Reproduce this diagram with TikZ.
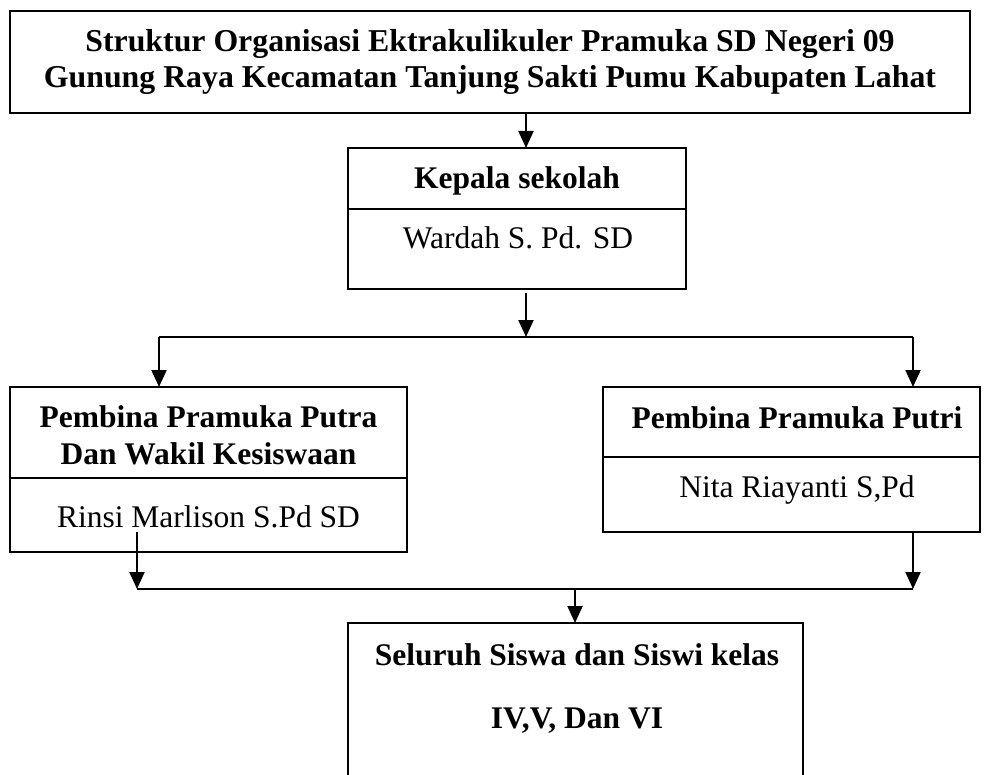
\documentclass[tikz,border=0pt]{standalone}
\usepackage{fontspec}
\setmainfont{Liberation Serif}
\usetikzlibrary{arrows.meta}
\begin{document}
\begin{tikzpicture}[x=1pt,y=-1pt,
  boxst/.style={draw,line width=2pt,inner sep=0pt,outer sep=0pt},
  ln/.style={line width=2pt},
  arr/.style={line width=2pt,-{Triangle[width=15pt,length=17pt]}},
  bt/.style={anchor=base,inner sep=0pt,font=\fontsize{31.5}{36}\selectfont\bfseries},
  tt/.style={anchor=base,inner sep=0pt,font=\fontsize{31.8}{36}\selectfont\bfseries},
  rt/.style={anchor=base,inner sep=0pt,font=\fontsize{31.5}{36}\selectfont}]
\useasboundingbox (0,0) rectangle (984,775);
\clip (0,0) rectangle (984,775);
% boxes
\node[boxst,minimum width=960pt,minimum height=102pt] (top) at (490,62) {};
\node[boxst,minimum width=338pt,minimum height=141pt] (kepala) at (517,218.5) {};
\node[boxst,minimum width=397pt,minimum height=165pt] (left) at (208.5,469.5) {};
\node[boxst,minimum width=377pt,minimum height=145pt] (right) at (791.5,459.5) {};
\node[boxst,minimum width=455pt,minimum height=177pt] (bottom) at (575.5,711.5) {};
% dividers
\coordinate (kd) at (0,209);
\coordinate (ld) at (0,478);
\coordinate (rd) at (0,457);
\draw[ln] (kepala.west |- kd) -- (kepala.east |- kd);
\draw[ln] (left.west |- ld) -- (left.east |- ld);
\draw[ln] (right.west |- rd) -- (right.east |- rd);
% texts
\node[tt] (t1) at (490,52) {Struktur Organisasi Ektrakulikuler Pramuka SD Negeri 09};
\node[tt] (t2) at (490,88) {Gunung Raya Kecamatan Tanjung Sakti Pumu Kabupaten Lahat};
\node[bt] (k1) at (517,189) {Kepala sekolah};
\node[rt] (k2) at (518,249) {Wardah S. Pd. SD};
\node[bt] (l1) at (208.5,427) {Pembina Pramuka Putra};
\node[bt] (l2) at (208.5,464) {Dan Wakil Kesiswaan};
\node[rt] (l3) at (208.5,527) {Rinsi Marlison S.Pd SD};
\node[bt] (r1) at (797,428) {Pembina Pramuka Putri};
\node[rt] (r2) at (797,497) {Nita Riayanti S,Pd};
\node[bt] (b1) at (577,665) {Seluruh Siswa dan Siswi kelas};
\node[bt] (b2) at (577,728) {IV,V, Dan VI};
% connector coordinates
\coordinate (ax) at (526,0);
\coordinate (k0) at (526,293);
\coordinate (h1) at (526,337);
\coordinate (h1l) at (159,337);
\coordinate (h1r) at (913,337);
\coordinate (ls) at (137,532);
\coordinate (h2l) at (137,589);
\coordinate (h2r) at (913,589);
\coordinate (h2m) at (575,589);
% connectors
\draw[arr] (top.south -| ax) -- (kepala.north -| ax);
\draw[arr] (k0) -- (h1);
\draw[ln] (h1l) -- (h1r);
\draw[arr] (h1l) -- (left.north -| h1l);
\draw[arr] (h1r) -- (right.north -| h1r);
\draw[arr] (ls) -- (h2l);
\draw[arr] (right.south -| h2r) -- (h2r);
\draw[ln] (h2l) -- (h2r);
\draw[arr] (h2m) -- (bottom.north -| h2m);
\end{tikzpicture}
\end{document}
